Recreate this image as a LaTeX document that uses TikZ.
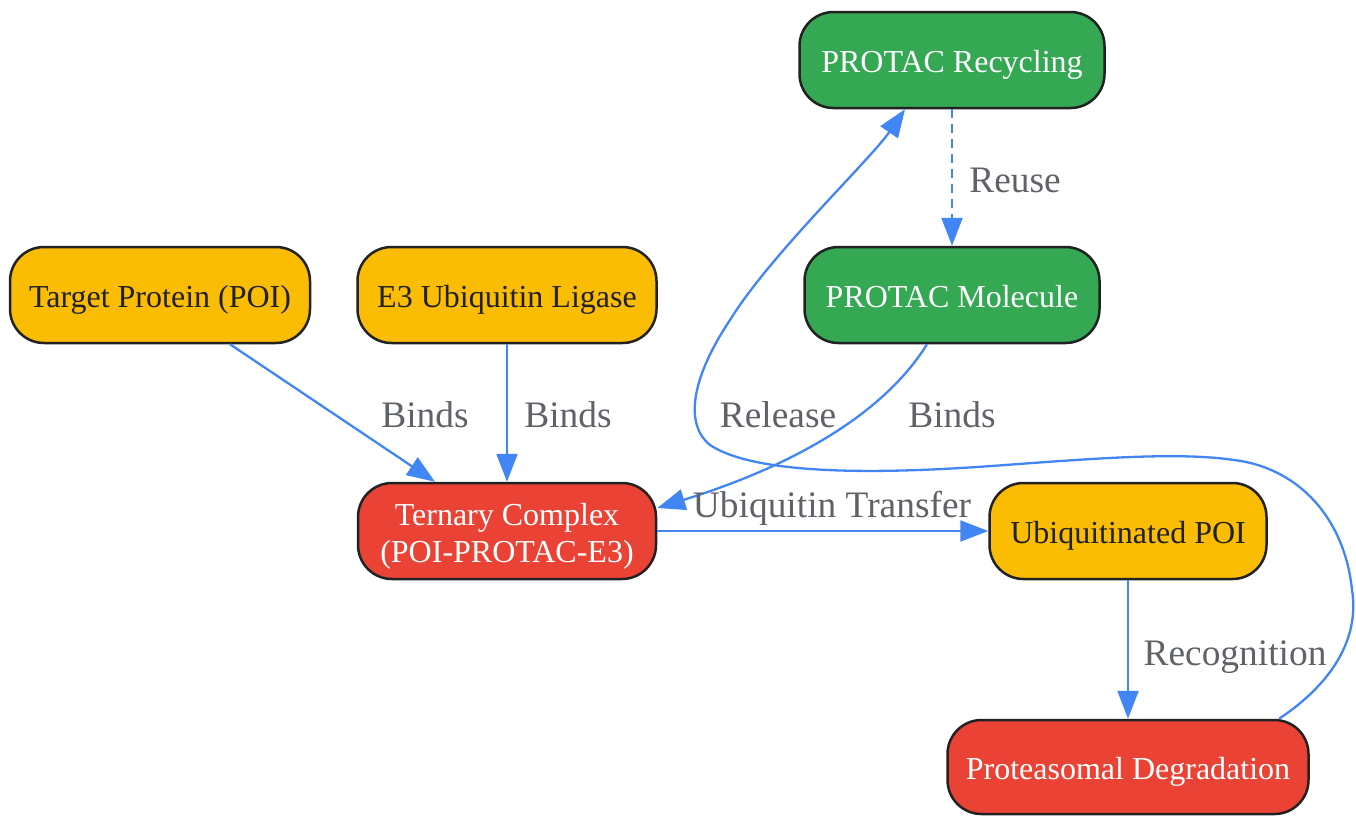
\documentclass[tikz,border=0pt]{standalone}
\usepackage{fontspec}
\usepackage{calc}
\setmainfont{Liberation Serif}
\usetikzlibrary{arrows.meta}
\definecolor{gyellow}{HTML}{FBBC04}
\definecolor{ggreen}{HTML}{34A853}
\definecolor{gred}{HTML}{EA4335}
\definecolor{gblue}{HTML}{4285F4}
\definecolor{gborder}{HTML}{222222}
\definecolor{gtext}{HTML}{202124}
\definecolor{glabel}{HTML}{5F6368}
\tikzset{
  box/.style={draw=gborder, line width=2.5pt, rounded corners=34pt, inner sep=0pt,
    minimum height=96pt, align=center, font=\fontsize{32}{37}\selectfont,
    text height=24pt, text depth=0pt},
  ybox/.style={box, fill=gyellow, text=gtext},
  gbox/.style={box, fill=ggreen, text=white},
  rbox/.style={box, fill=gred, text=white},
  edge/.style={draw=gblue, line width=2.3pt, -{Triangle[length=28pt,width=21pt]}},
  elabel/.style={text=glabel, font=\fontsize{37.4}{40}\selectfont, inner sep=0pt}
}
\begin{document}
\begin{tikzpicture}[x=1pt,y=-1pt]
\useasboundingbox (0,0) rectangle (1356,815);
\node[ybox, minimum width=300pt] (tp) at (160,295) {Target Protein (POI)};
\node[ybox, minimum width=299pt] (e3) at (507,295) {E3 Ubiquitin Ligase};
\node[rbox, minimum width=298pt, text height=, text depth=] (tc) at (507,531)
  {\raisebox{0pt}[\height+11pt][\depth]{\begin{tabular}{@{}c@{}}Ternary Complex\\(POI-PROTAC-E3)\end{tabular}}};
\node[gbox, minimum width=305pt] (rc) at (952,60) {PROTAC Recycling};
\node[gbox, minimum width=295pt] (pm) at (952,295) {PROTAC Molecule};
\node[ybox, minimum width=277pt] (up) at (1128,531) {Ubiquitinated POI};
\node[rbox, minimum width=361pt, minimum height=94pt] (pd) at (1128,767) {Proteasomal Degradation};

\draw[edge] ([xshift=70pt]tp.south) -- ([xshift=-72pt]tc.north);
\draw[edge] (e3.south) -- (tc.north);
\draw[edge] ([xshift=-25pt]pm.south) .. controls (880,420) and (780,470) .. ([yshift=23pt]tc.east);
\draw[edge] (tc.east) -- (up.west);
\draw[edge] (up.south) -- (pd.north);
\draw[edge] ([xshift=151pt]pd.north) .. controls (1330,685) and (1360,640) .. (1352,590)
  .. controls (1345,520) and (1300,468) .. (1234,460)
  .. controls (1180,452) and (1100,458) .. (1005,465)
  .. controls (900,473) and (760,478) .. (710,445)
  .. controls (685,425) and (690,380) .. (730,320)
  .. controls (770,255) and (870,160) .. ([xshift=-47pt]rc.south);
\draw[edge, dash pattern=on 9pt off 6pt] (rc.south) -- (pm.north);

\node[elabel] (l1) at (425,415) {Binds};
\node[elabel] (l2) at (568,415) {Binds};
\node[elabel] (l3) at (952,415) {Binds};
\node[elabel] (l4) at (778,415) {Release};
\node[elabel] (l5) at (1015,180) {Reuse};
\node[elabel] (l6) at (832,508) {Ubiquitin Transfer};
\node[elabel] (l7) at (1235,657) {Recognition};
\end{tikzpicture}
\end{document}
